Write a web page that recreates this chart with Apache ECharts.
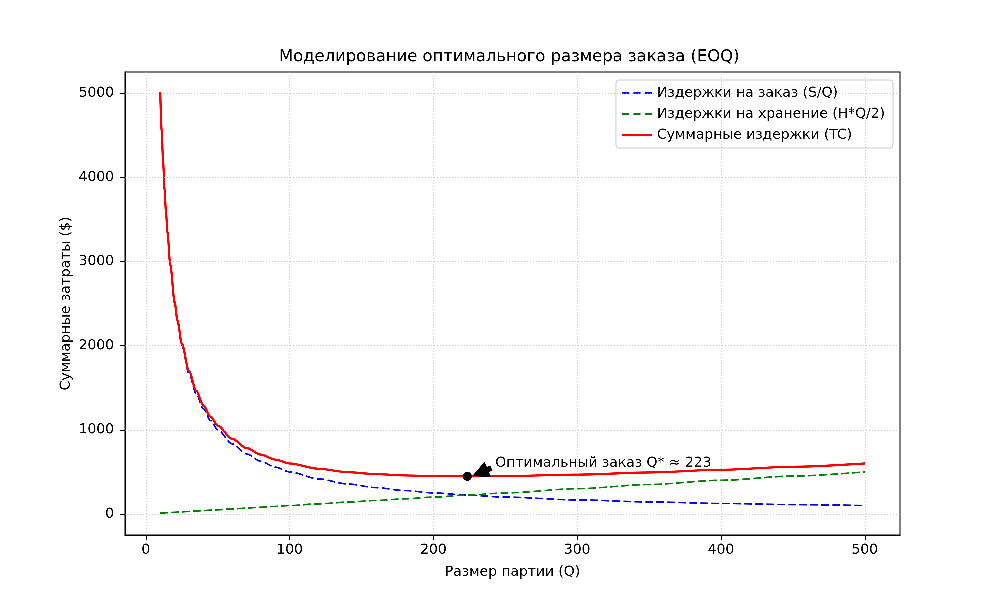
<!DOCTYPE html>
<html><head><meta charset="utf-8">
<script src="https://cdn.jsdelivr.net/npm/echarts@6/dist/echarts.min.js"></script>
<style>html,body{margin:0;padding:0;background:#fff}#c{width:1000px;height:600px}</style>
</head><body><div id="c"></div>
<script>
const qValues = [10,11,12,13,14,15,17,20,22,25,30,35,40,45,50,60,70,80,90,100,120,140,160,180,200,223.6,250,300,350,400,450,500];
const orderCost = [5000,4545,4167,3846,3571,3333,2941,2500,2273,2000,1667,1429,1250,1111,1000,833,714,625,556,500,417,357,313,278,250,224,200,167,143,125,111,100];
const holdCost = [10,11,12,13,14,15,17,20,22,25,30,35,40,45,50,60,70,80,90,100,120,140,160,180,200,224,250,300,350,400,450,500];
const totalCost = [5010,4556,4179,3859,3585,3348,2958,2520,2295,2025,1697,1464,1290,1156,1050,893,784,705,646,600,537,497,473,458,450,447,450,467,493,525,561,600];
const optimum = [223.6, 447];
const xTicks = [0,100,200,300,400,500];
const yTicks = [0,1000,2000,3000,4000,5000];
const seriesNames = ['Издержки на заказ (S/Q)','Издержки на хранение (H*Q/2)','Суммарные издержки (TC)'];
const annotationText = 'Оптимальный заказ Q* ≈ 223';
const annotationPos = [243, 605];
const arrowTail = [240.3, 546];
const arrowHead = [232.4, 489];

const pairs = arr => qValues.map((q,i)=>[q,arr[i]]);
const font = 'DejaVu Sans';
const dashIcon = 'path://M0,0h7v2h-7z M11.5,0h7v2h-7z M23,0h7v2h-7z';
const solidIcon = 'path://M0,0h30v2h-30z';
const chart = echarts.init(document.getElementById('c'), null, {renderer:'canvas', devicePixelRatio:3});
chart.setOption({
  animation:false,
  backgroundColor:'#fff',
  textStyle:{fontFamily:font},
  title:{text:'Моделирование оптимального размера заказа (EOQ)',left:279,top:49,padding:0,
    textStyle:{fontFamily:font,fontSize:16.4,fontWeight:'normal',color:'#000'}},
  grid:{left:125,right:100,top:72,bottom:65,show:true,borderColor:'#000',borderWidth:1,backgroundColor:'transparent'},
  legend:{orient:'vertical',right:107,top:80,backgroundColor:'#fff',borderColor:'#ccc',borderWidth:1,borderRadius:3,
    padding:[6,8,6,6],itemGap:7,itemWidth:30,itemHeight:2,
    textStyle:{fontFamily:font,fontSize:13.9,color:'#000'},
    data:[{name:seriesNames[0],icon:dashIcon},{name:seriesNames[1],icon:dashIcon},{name:seriesNames[2],icon:solidIcon}]},
  xAxis:{type:'value',min:-14.5,max:524.5,
    name:'Размер партии (Q)',nameLocation:'middle',nameGap:30,nameMoveOverlap:false,nameTextStyle:{fontFamily:font,fontSize:13.9,color:'#000'},
    axisLine:{show:true,onZero:false,lineStyle:{color:'#000'}},
    axisTick:{show:true,length:5,lineStyle:{color:'#000'},customValues:xTicks},
    axisLabel:{fontFamily:font,fontSize:13.9,color:'#000',margin:8,customValues:xTicks,formatter:v=>String(v)},
    splitLine:{show:false}},
  yAxis:{type:'value',min:-250,max:5250,
    name:'Суммарные затраты ($)',nameLocation:'middle',nameGap:52,nameMoveOverlap:false,nameTextStyle:{fontFamily:font,fontSize:13.9,color:'#000'},
    axisLine:{show:true,onZero:false,lineStyle:{color:'#000'}},
    axisTick:{show:true,length:5,lineStyle:{color:'#000'},customValues:yTicks},
    axisLabel:{fontFamily:font,fontSize:13.9,color:'#000',margin:11,customValues:yTicks,formatter:v=>String(v)},
    splitLine:{show:false}},
  series:[
    {name:'grid',type:'line',data:[],silent:true,
      markLine:{silent:true,symbol:['none','none'],label:{show:false},
        lineStyle:{color:'#b0b0b0',type:[1,2],width:0.8,opacity:0.7},
        data:[...xTicks.map(v=>({xAxis:v})),...yTicks.map(v=>({yAxis:v}))]}},
    {name:seriesNames[0],type:'line',data:pairs(orderCost),smooth:0.3,smoothMonotone:'x',symbol:'none',showSymbol:false,
      lineStyle:{color:'#0000ff',width:1.6,type:[7.7,3.3]},itemStyle:{color:'#0000ff'}},
    {name:seriesNames[1],type:'line',data:pairs(holdCost),smooth:0.3,smoothMonotone:'x',symbol:'none',showSymbol:false,
      lineStyle:{color:'#008000',width:1.6,type:[7.7,3.3]},itemStyle:{color:'#008000'}},
    {name:seriesNames[2],type:'line',data:pairs(totalCost),smooth:0.3,smoothMonotone:'x',symbol:'none',showSymbol:false,
      lineStyle:{color:'#ff0000',width:2.2},itemStyle:{color:'#ff0000'}},
    {name:'opt',type:'scatter',data:[optimum],symbol:'circle',symbolSize:9,itemStyle:{color:'#000',opacity:1},z:5,
      markLine:{silent:true,symbol:['none','none'],label:{show:false},
        lineStyle:{color:'#000',width:5.6,type:'solid',cap:'butt'},
        data:[[{coord:arrowTail},{coord:arrowHead}]]},
      markPoint:{silent:true,symbol:'triangle',symbolSize:[17,17],symbolRotate:112.8,label:{show:false},
        itemStyle:{color:'#000',opacity:1},data:[{coord:arrowHead}]}},
    {name:'txt',type:'scatter',data:[annotationPos],symbolSize:0,silent:true,itemStyle:{opacity:1},
      label:{show:true,position:'right',distance:0,formatter:annotationText,fontFamily:font,fontSize:13.9,color:'#000'}}
  ]
});
</script></body></html>
